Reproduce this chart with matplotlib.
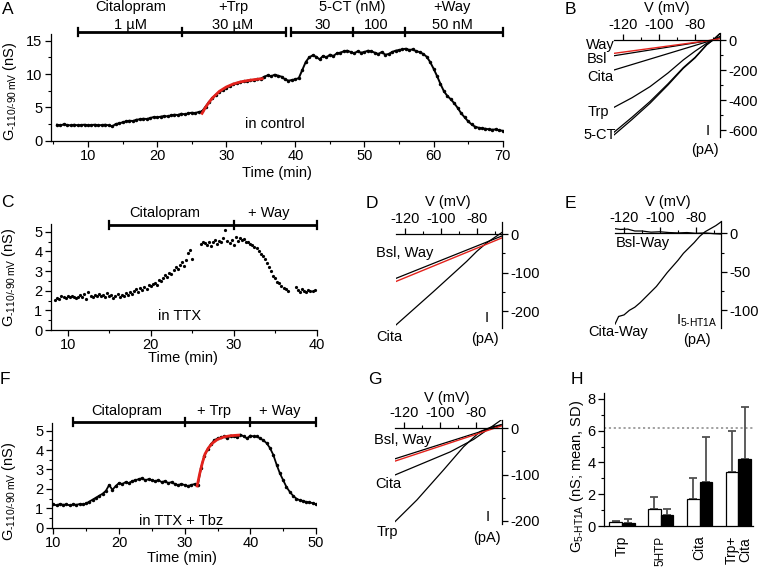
import numpy as np
import matplotlib
matplotlib.use("Agg")
import matplotlib.pyplot as plt
from matplotlib.ticker import MultipleLocator

plt.rcParams['font.family'] = ['Liberation Sans', 'DejaVu Sans']
plt.rcParams['mathtext.fontset'] = 'custom'
plt.rcParams['mathtext.rm'] = 'Liberation Sans'
plt.rcParams['mathtext.it'] = 'Liberation Sans:italic'
plt.rcParams['mathtext.default'] = 'regular'
plt.rcParams['axes.unicode_minus'] = False
plt.rcParams['axes.linewidth'] = 0.9

# ---------------- data ----------------
# A: conductance time course, control
a_time = np.arange(5.5, 70.01, 0.5)
a_g = [2.4, 2.3, 2.45, 2.35, 2.3, 2.4, 2.3, 2.35, 2.4, 2.3,
       2.35, 2.4, 2.3, 2.35, 2.4, 2.3, 2.15, 2.5, 2.6, 2.75,
       2.9, 3.0, 2.95, 3.15, 3.2, 3.3, 3.25, 3.4, 3.55, 3.5,
       3.6, 3.7, 3.65, 3.8, 3.9, 3.85, 4.05, 3.95, 4.1, 4.2,
       4.15, 4.3, 4.4, 5.1, 5.8, 6.4, 6.9, 7.3, 7.65, 7.95,
       8.2, 8.45, 8.6, 8.75, 8.9, 8.95, 9.1, 9.05, 9.25, 9.3,
       9.6, 9.8, 9.65, 9.9, 9.75, 9.6, 9.2, 9.0, 9.1, 9.2,
       9.4, 10.6, 11.8, 12.5, 12.8, 12.6, 12.2, 12.7, 12.5, 12.9,
       12.7, 13.1, 13.2, 13.4, 13.5, 13.3, 13.1, 13.4, 13.2, 13.3,
       13.5, 13.4, 13.2, 13.0, 13.3, 12.9, 13.0, 13.3, 13.5, 13.6,
       13.7, 13.8, 13.6, 13.7, 13.4, 13.3, 13.0, 12.6, 11.8, 10.8,
       9.7, 8.5, 7.4, 6.7, 6.2, 5.6, 4.9, 4.1, 3.5, 2.9,
       2.45, 2.1, 1.95, 1.85, 1.8, 1.7, 1.65, 1.7, 1.55, 1.5]
a_fit_t = [26.5, 27, 27.5, 28, 29, 30, 31, 32, 33, 34, 35.2]
a_fit_g = [4.1, 5.0, 5.75, 6.4, 7.4, 8.05, 8.5, 8.8, 9.0, 9.15, 9.3]
a_edges_1 = [8.5, 23.6, 38.7]
a_edges_2 = [39.4, 48.4, 55.8, 70.0]

# C: in TTX
c_time = np.arange(8.5, 39.76, 0.25)
nan = np.nan
c_g = [1.55, 1.65, 1.6, 1.75, 1.7, 1.65, 1.72, 1.68, 1.75, 1.7, 1.65, 1.7,
       1.78, 1.7, 1.85, 1.6, 1.95, 1.75, 1.7, 1.8, 1.72, 1.85, 1.75, 1.8,
       1.7, 1.9, 1.75, 1.8, 1.65, 1.75, 1.85, 1.7, 1.8, 1.75, 1.9, 1.8,
       1.95, 1.85, 2.0, 2.1, 1.95, 2.15, 2.05, 2.2, 2.1, 2.3, 2.25, 2.35,
       2.4, 2.3, 2.55, 2.5, 2.65, 2.8, 2.7, 2.9, 2.85, 3.05, 3.2, 3.1,
       3.3, 3.45, 3.25, 3.55, 3.9, 4.05, 3.6, nan, nan, nan, 4.35, 4.45,
       4.4, 4.3, 4.5, 4.25, 4.45, 4.6, 4.35, 4.55, 4.5, 4.7, 5.1, 4.55,
       4.4, 4.6, 4.3, 4.75, 4.55, 4.7, 4.6, 4.65, 4.5, 4.45, 4.35, 4.3,
       4.2, 4.15, 4.0, 3.85, 3.75, 3.6, 3.4, 3.2, 3.0, 2.75, 2.65, 2.45,
       2.4, 2.25, 2.15, 2.1, 2.0, nan, nan, nan, 2.2, 2.05, 1.95, 2.1,
       2.0, 1.95, 2.05, 2.0, 1.98, 2.02]
c_edges = [15, 30, 40]

# F: in TTX + Tbz
f_time = np.arange(10, 50.01, 0.5)
f_g = [1.2, 1.15, 1.22, 1.18, 1.2, 1.15, 1.2, 1.18, 1.22, 1.2,
       1.25, 1.35, 1.45, 1.55, 1.65, 1.75, 1.9, 2.2, 1.95, 2.15,
       2.3, 2.25, 2.35, 2.3, 2.4, 2.45, 2.5, 2.55, 2.45, 2.5,
       2.45, 2.4, 2.45, 2.35, 2.4, 2.3, 2.35, 2.25, 2.2, 2.25,
       2.2, 2.15, 2.2, 2.25, 2.2, 3.1, 3.7, 4.05, 4.3, 4.5,
       4.6, 4.65, 4.7, 4.6, 4.75, 4.7, 4.65, 4.8, 4.7, 4.6,
       4.75, 4.7, 4.7, 4.6, 4.5, 4.35, 4.1, 3.75, 3.25, 2.8,
       2.45, 2.1, 1.85, 1.65, 1.5, 1.42, 1.38, 1.33, 1.3, 1.27,
       1.2]
f_fit_t = [31.9, 32.3, 32.7, 33.1, 33.6, 34.2, 35, 36, 37, 38.2]
f_fit_g = [2.15, 2.8, 3.35, 3.8, 4.1, 4.35, 4.55, 4.68, 4.74, 4.77]
f_edges = [13, 30, 40, 50]

# B: I-V curves (mV, pA)
b_v2 = [-125, -70, -66]
b_way = [-89, 0, 10]
b_bsl = [-105, 0, 12]
b_cita = [-200, 0, 15]
b_v9 = [-125, -115, -105, -95, -86.5, -80, -73.5, -70, -66]
b_trp = [-449, -385, -311, -220, -133, -75, -22, 0, 25]
b_5ct_1 = [-633, -530, -422, -300, -189, -120, -33, 0, 45]
b_5ct_2 = [-615, -515, -410, -292, -184, -116, -31, 0, 44]

# D
d_v_lin = [-125, -66]
d_bsl = [-115, -5]
d_way = [-123, -10]
d_v_cita = [-125, -104, -85.6, -80, -74.5, -66]
d_cita = [-236, -149, -71, -45, -23, 4]

# E: difference currents
e_v = [-125, -122, -118, -114, -110, -105, -100, -95, -90, -85, -80, -75, -70, -66]
e_bsl_way = [6, 5, 5.5, 3, 3, 1.5, 2, 1, 0.5, 1, 0, 0.5, -0.5, -1]
e_v_cita = [-125, -123, -120, -117, -114, -111, -108, -105, -102, -99, -96,
            -93, -90, -87, -84, -81, -78, -75, -72, -69, -66]
e_cita_way = [-118, -108, -106, -100, -96, -90, -83, -76, -69, -60, -51,
              -43, -35, -26, -19, -12, -4, 2, 6, 10, 15]

# G
g_v_lin = [-125, -66]
g_bsl = [-66, 7]
g_way = [-71, 5]
g_v_cita = [-125, -94.3, -81.3, -66]
g_cita = [-101, -51, -24, 18]
g_v_trp = [-125, -112.8, -98, -86.9, -77.7, -72, -66]
g_trp = [-202, -155, -90, -40, -7, 2, 8]

# H: bar summary
h_groups = ['Trp', '5HTP', 'Cita', 'Trp+\nCita']
h_white_mean = [0.25, 1.05, 1.68, 3.42]
h_white_sd = [0.08, 0.8, 1.37, 2.55]
h_black_mean = [0.2, 0.69, 2.75, 4.22]
h_black_sd = [0.24, 0.36, 2.87, 3.28]
h_ref_level = 6.2

# ---------------- figure ----------------
W, H = 759, 568
fig = plt.figure(figsize=(W / 100, H / 100), dpi=100)
FS = 10.5
RED = '#e3221c'
HY = '\u2010'  # plain hyphen, avoids mathtext minus spacing


def px_axes(x0, x1, y_top, y_bot):
    return fig.add_axes([x0 / W, 1 - y_bot / H, (x1 - x0) / W, (y_bot - y_top) / H])


def ftext(x, y, s, size=FS, **kw):
    kw.setdefault('ha', 'center')
    kw.setdefault('va', 'center')
    fig.text(x / W, 1 - y / H, s, fontsize=size, **kw)


def time_axes(ax, xlim, ylim, xmaj, xmin, ymaj, ymin):
    ax.set_xlim(xlim)
    ax.set_ylim(ylim)
    ax.spines['top'].set_visible(False)
    ax.spines['right'].set_visible(False)
    ax.xaxis.set_major_locator(MultipleLocator(xmaj))
    ax.xaxis.set_minor_locator(MultipleLocator(xmin))
    ax.yaxis.set_major_locator(MultipleLocator(ymaj))
    ax.yaxis.set_minor_locator(MultipleLocator(ymin))
    ax.tick_params(which='major', direction='out', length=4, width=0.9, labelsize=FS, pad=2)
    ax.tick_params(which='minor', direction='out', length=2.5, width=0.8)
    ax.patch.set_alpha(0)


def treat_bar(ax, edges, y, cap):
    ax.plot([edges[0], edges[-1]], [y, y], color='k', lw=2.0, clip_on=False,
            solid_capstyle='butt')
    for e in edges:
        ax.plot([e, e], [y - cap, y + cap], color='k', lw=1.6, clip_on=False)


def iv_axes(ax, xlim, ylim, ymaj, ymin):
    ax.set_xlim(xlim)
    ax.set_ylim(ylim)
    ax.spines['left'].set_visible(False)
    ax.spines['bottom'].set_visible(False)
    ax.spines['top'].set_position(('data', 0))
    ax.xaxis.set_ticks_position('top')
    ax.yaxis.set_ticks_position('right')
    ax.set_xticks([-120, -100, -80])
    ax.xaxis.set_minor_locator(MultipleLocator(10))
    ax.yaxis.set_major_locator(MultipleLocator(ymaj))
    ax.yaxis.set_minor_locator(MultipleLocator(ymin))
    ax.tick_params(which='major', direction='out', length=4, width=0.9, labelsize=FS, pad=2)
    ax.tick_params(which='minor', direction='out', length=2.5, width=0.8)
    ax.patch.set_alpha(0)


glabel = 'G$_{' + HY + '110/' + HY + '90\\,mV}$ (nS)'

# ---- A ----
ax = px_axes(50.7, 502.7, 34.0, 140.7)
time_axes(ax, (4.6, 70), (0, 16), 10, 5, 5, 2.5)
ax.plot(a_time, a_g, color='k', lw=1.4, marker='o', ms=2.5, mew=0)
ax.plot(a_fit_t, a_fit_g, color=RED, lw=2.0)
treat_bar(ax, a_edges_1, 16.35, 0.6)
treat_bar(ax, a_edges_2, 16.35, 0.6)
ftext(131, 7, 'Citalopram')
ftext(131, 25, '1 µM')
ftext(233, 7, '+Trp')
ftext(233, 25, '30 µM')
ftext(352, 7, '5-CT (nM)')
ftext(323, 25, '30')
ftext(376, 25, '100')
ftext(452, 7, '+Way')
ftext(452, 25, '50 nM')
ftext(275, 124, 'in control')
ftext(277, 173, 'Time (min)')
ftext(10, 91, glabel, rotation=90)

# ---- B ----
ax = px_axes(614, 720, 32.5, 136.75)
iv_axes(ax, (-125, -66.1), (-645, 50), 200, 100)
ax.plot(b_v2, b_bsl, color='k', lw=0.9)
ax.plot(b_v2, b_cita, color='k', lw=0.9)
ax.plot(b_v9, b_trp, color='k', lw=0.9)
ax.plot(b_v9, b_5ct_1, color='k', lw=0.9)
ax.plot(b_v9, b_5ct_2, color='k', lw=0.9)
ax.plot(b_v2, b_way, color=RED, lw=1.0)
ftext(667, 8, 'V (mV)')
ftext(600, 45, 'Way')
ftext(597, 59, 'Bsl')
ftext(600, 77, 'Cita')
ftext(598, 112, 'Trp')
ftext(600, 135, '5-CT')
ftext(708, 131, 'I')
ftext(705, 150, '(pA)')

# ---- C ----
ax = px_axes(50.7, 316.7, 223.8, 330)
time_axes(ax, (7.95, 40), (0, 5.4), 10, 5, 1, 0.5)
ax.plot(c_time, c_g, ls='none', color='k', marker='o', ms=2.3, mew=0)
treat_bar(ax, c_edges, 5.34, 0.2)
ftext(165, 213, 'Citalopram')
ftext(269, 213, '+ Way')
ftext(180, 316, 'in TTX')
ftext(183, 358, 'Time (min)')
ftext(9, 277, glabel, rotation=90)

# ---- D ----
ax = px_axes(395.7, 501.7, 221.7, 327.9)
iv_axes(ax, (-125, -66.1), (-243, 32), 100, 50)
ax.plot(d_v_lin, d_bsl, color='k', lw=0.9)
ax.plot(d_v_cita, d_cita, color='k', lw=0.9)
ax.plot(d_v_lin, d_way, color=RED, lw=1.0)
ftext(448, 202, 'V (mV)')
ftext(405, 253, 'Bsl, Way')
ftext(389, 337, 'Cita')
ftext(487, 318, 'I')
ftext(485, 339, '(pA)')

# ---- E ----
ax = px_axes(615, 720.7, 221, 328)
iv_axes(ax, (-125, -66.3), (-123, 16), 50, 25)
ax.plot(e_v, e_bsl_way, color='k', lw=0.9)
ax.plot(e_v_cita, e_cita_way, color='k', lw=0.9)
ftext(668, 202, 'V (mV)')
ftext(616, 243, 'Bsl-Way', ha='left')
ftext(618, 332, 'Cita-Way', ha='center')
ftext(697, 321, 'I$_{5' + HY + 'HT1A}$')
ftext(697, 340, '(pA)')

# ---- F ----
ax = px_axes(51.7, 316, 422.9, 527.7)
time_axes(ax, (9.75, 50), (0, 5.4), 10, 5, 1, 0.5)
ax.plot(f_time, f_g, color='k', lw=1.3, marker='o', ms=2.5, mew=0)
ax.plot(f_fit_t, f_fit_g, color=RED, lw=2.0)
treat_bar(ax, f_edges, 5.46, 0.2)
ftext(127, 411, 'Citalopram')
ftext(214, 411, '+ Trp')
ftext(280, 411, '+ Way')
ftext(181, 521, 'in TTX + Tbz')
ftext(182, 558, 'Time (min)')
ftext(9, 491, glabel, rotation=90)

# ---- G ----
ax = px_axes(395, 501.7, 420, 524.4)
iv_axes(ax, (-125, -65.7), (-208, 18), 100, 50)
ax.plot(g_v_lin, g_bsl, color='k', lw=0.9)
ax.plot(g_v_cita, g_cita, color='k', lw=0.9)
ax.plot(g_v_trp, g_trp, color='k', lw=0.9)
ax.plot(g_v_lin, g_way, color=RED, lw=1.0)
ftext(447, 398, 'V (mV)')
ftext(403, 440, 'Bsl, Way')
ftext(388, 484, 'Cita')
ftext(387, 532, 'Trp')
ftext(488, 517, 'I')
ftext(487, 538, '(pA)')

# ---- H ----
ax = px_axes(604, 753.3, 393.4, 526)
x = np.arange(len(h_groups))
w = 0.327
ax.set_xlim(-0.464, 3.384)
ax.set_ylim(0, 8.35)
ax.axhline(h_ref_level, color='#9a9a9a', ls=(0, (1.2, 1.5)), lw=1.3, zorder=1)
ax.errorbar(x - w / 2, h_white_mean, yerr=[np.zeros(4), h_white_sd], fmt='none',
            ecolor='#505050', elinewidth=1.3, capsize=3, capthick=1.3, zorder=2)
ax.errorbar(x + w / 2, h_black_mean, yerr=[np.zeros(4), h_black_sd], fmt='none',
            ecolor='#505050', elinewidth=1.3, capsize=3, capthick=1.3, zorder=2)
ax.bar(x - w / 2, h_white_mean, w, color='white', edgecolor='k', lw=0.9, zorder=3)
ax.bar(x + w / 2, h_black_mean, w, color='k', edgecolor='k', lw=0.9, zorder=3)
ax.spines['top'].set_visible(False)
ax.spines['right'].set_visible(False)
ax.yaxis.set_major_locator(MultipleLocator(2))
ax.yaxis.set_minor_locator(MultipleLocator(1))
ax.set_xticks(x)
ax.set_xticklabels(h_groups, rotation=90, va='top', ha='center', linespacing=0.9)
ax.tick_params(axis='x', length=0, pad=7, labelsize=10)
ax.get_xticklabels()[1].set_fontsize(8.5)
ax.tick_params(axis='y', which='major', direction='out', length=4, width=0.9, labelsize=FS, pad=2)
ax.tick_params(axis='y', which='minor', direction='out', length=2.5, width=0.8)
ax.patch.set_alpha(0)
ftext(577, 476, 'G$_{5' + HY + 'HT1A}$ (nS; mean, SD)', rotation=90)

# panel letters
for lab, (lx, ly) in {'A': (8, 9), 'B': (570, 9), 'C': (7, 202), 'D': (372, 203),
                      'E': (570, 203), 'F': (5, 380), 'G': (375, 380), 'H': (577, 380)}.items():
    ftext(lx, ly, lab, size=12.5)

fig.savefig('out.png', dpi=100)
